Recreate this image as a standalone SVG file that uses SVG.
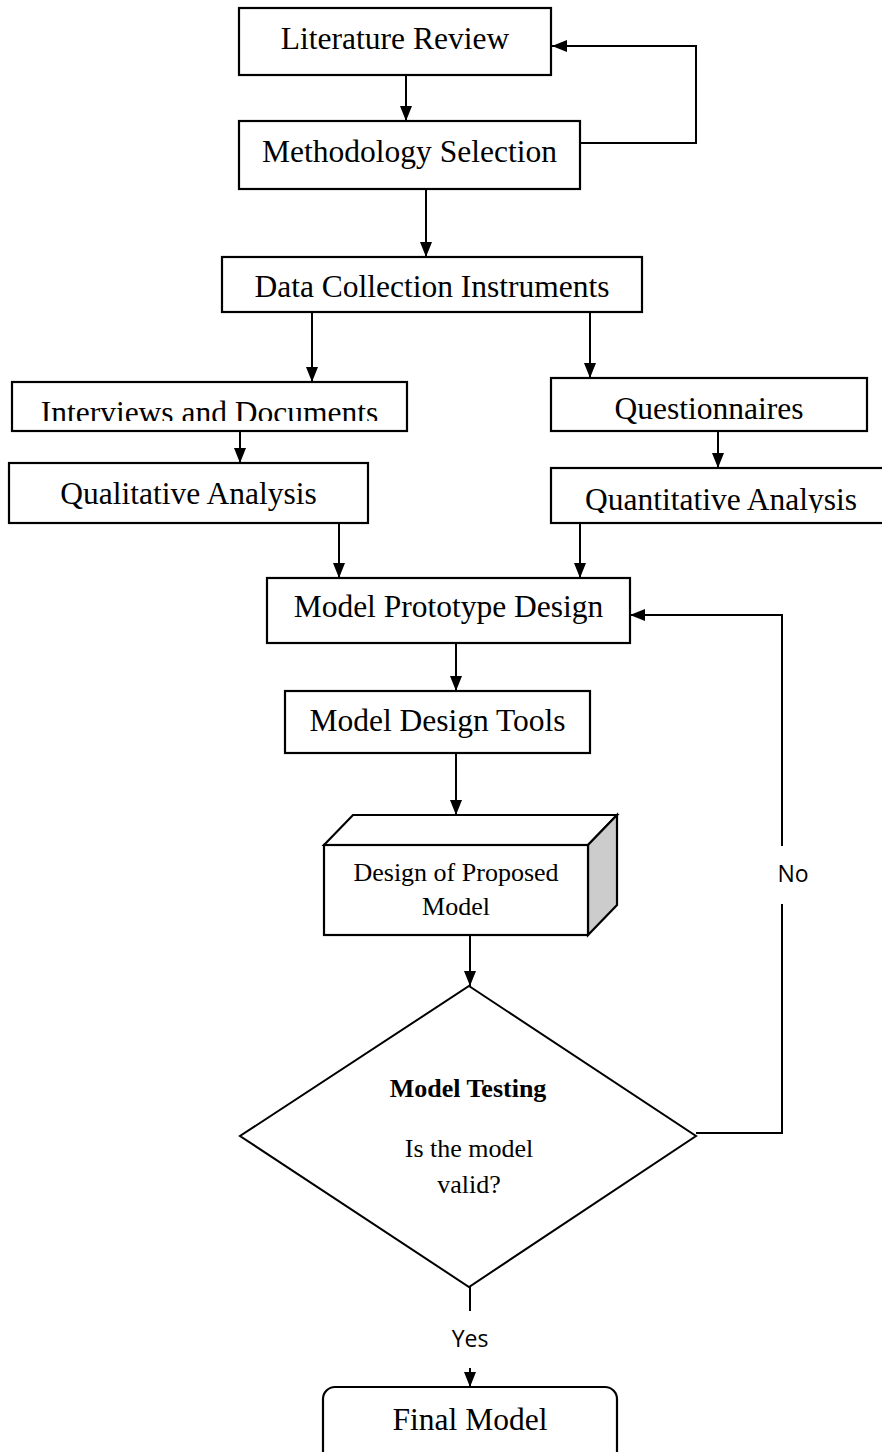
<svg xmlns="http://www.w3.org/2000/svg" width="882" height="1452" viewBox="0 0 882 1452">
  <style>
    .box { fill: #ffffff; stroke: #000000; stroke-width: 2.2; }
    .t { font-family: "Liberation Serif", "Times New Roman", serif; font-size: 31.5px; fill: #000000; text-anchor: middle; }
    .ts { font-family: "Liberation Serif", "Times New Roman", serif; font-size: 26px; fill: #000000; text-anchor: middle; }
    .tb { font-weight: bold; }
    .lbl { font-family: "Open Sans", "DejaVu Sans", sans-serif; font-size: 23px; fill: #000000; text-anchor: middle; }
    .conn { fill: none; stroke: #000000; stroke-width: 2; marker-end: url(#arrow); }
    .plain { fill: none; stroke: #000000; stroke-width: 2; }
  </style>
  <defs>
    <marker id="arrow" markerUnits="userSpaceOnUse" markerWidth="15" markerHeight="12" refX="15" refY="6" orient="auto">
      <path d="M0,0 L15,6 L0,12 z" fill="#000000"/>
    </marker>
    <clipPath id="clipInt"><rect x="12" y="382" width="395" height="39"/></clipPath>
    <clipPath id="clipQuant"><rect x="551" y="468" width="340" height="45"/></clipPath>
  </defs>
  <rect width="882" height="1452" fill="#ffffff"/>

  <g id="connectors">
    <line class="conn" x1="406" y1="75" x2="406" y2="121"/>
    <polyline class="conn" points="580,143 696,143 696,46 552,46"/>
    <line class="conn" x1="426" y1="189" x2="426" y2="257"/>
    <line class="conn" x1="312" y1="312" x2="312" y2="382"/>
    <line class="conn" x1="590" y1="312" x2="590" y2="378"/>
    <line class="conn" x1="240" y1="431" x2="240" y2="463"/>
    <line class="conn" x1="718" y1="431" x2="718" y2="468"/>
    <line class="conn" x1="339" y1="523" x2="339" y2="578"/>
    <line class="conn" x1="580" y1="523" x2="580" y2="578"/>
    <line class="conn" x1="456" y1="643" x2="456" y2="691"/>
    <line class="conn" x1="456" y1="753" x2="456" y2="815"/>
    <line class="conn" x1="470" y1="935" x2="470" y2="986"/>
    <path class="conn" d="M696,1133 H782 V904 M782,846 V615 H630"/>
    <line class="plain" x1="470" y1="1287" x2="470" y2="1311"/>
    <line class="conn" x1="470" y1="1368" x2="470" y2="1387"/>
    <text class="lbl" x="793" y="882">No</text>
    <text class="lbl" x="470" y="1347">Yes</text>
  </g>

  <g id="literature-review">
    <rect class="box" x="239" y="8" width="312" height="67"/>
    <text class="t" x="395" y="49">Literature Review</text>
  </g>
  <g id="methodology-selection">
    <rect class="box" x="239" y="121" width="341" height="68"/>
    <text class="t" x="409.5" y="162">Methodology Selection</text>
  </g>
  <g id="data-collection">
    <rect class="box" x="222" y="257" width="420" height="55"/>
    <text class="t" x="432" y="297">Data Collection Instruments</text>
  </g>
  <g id="interviews">
    <rect class="box" x="12" y="382" width="395" height="49"/>
    <text class="t" x="209.5" y="423" clip-path="url(#clipInt)">Interviews and Documents</text>
  </g>
  <g id="questionnaires">
    <rect class="box" x="551" y="378" width="316" height="53"/>
    <text class="t" x="709" y="419">Questionnaires</text>
  </g>
  <g id="qualitative">
    <rect class="box" x="9" y="463" width="359" height="60"/>
    <text class="t" x="188.5" y="504">Qualitative Analysis</text>
  </g>
  <g id="quantitative">
    <rect class="box" x="551" y="468" width="340" height="55"/>
    <text class="t" x="721" y="510" clip-path="url(#clipQuant)">Quantitative Analysis</text>
  </g>
  <g id="prototype">
    <rect class="box" x="267" y="578" width="363" height="65"/>
    <text class="t" x="448.5" y="617">Model Prototype Design</text>
  </g>
  <g id="design-tools">
    <rect class="box" x="285" y="691" width="305" height="62"/>
    <text class="t" x="437.5" y="731">Model Design Tools</text>
  </g>
  <g id="proposed-model">
    <polygon class="box" points="324,845 353,815 617,815 588,845"/>
    <polygon class="box" points="588,845 617,815 617,905 588,935" style="fill:#cccccc"/>
    <rect class="box" x="324" y="845" width="264" height="90"/>
    <text class="ts" x="456" y="881">Design of Proposed</text>
    <text class="ts" x="456" y="915">Model</text>
  </g>
  <g id="model-testing">
    <polygon class="box" points="469,986 696,1136 469,1287 240,1136" style="stroke-width:2"/>
    <text class="ts tb" x="468" y="1097">Model Testing</text>
    <text class="ts" x="469" y="1157">Is the model</text>
    <text class="ts" x="469" y="1193">valid?</text>
  </g>
  <g id="final-model">
    <rect class="box" x="323" y="1387" width="294" height="80" rx="12" ry="12"/>
    <text class="t" x="470" y="1430">Final Model</text>
  </g>
</svg>
